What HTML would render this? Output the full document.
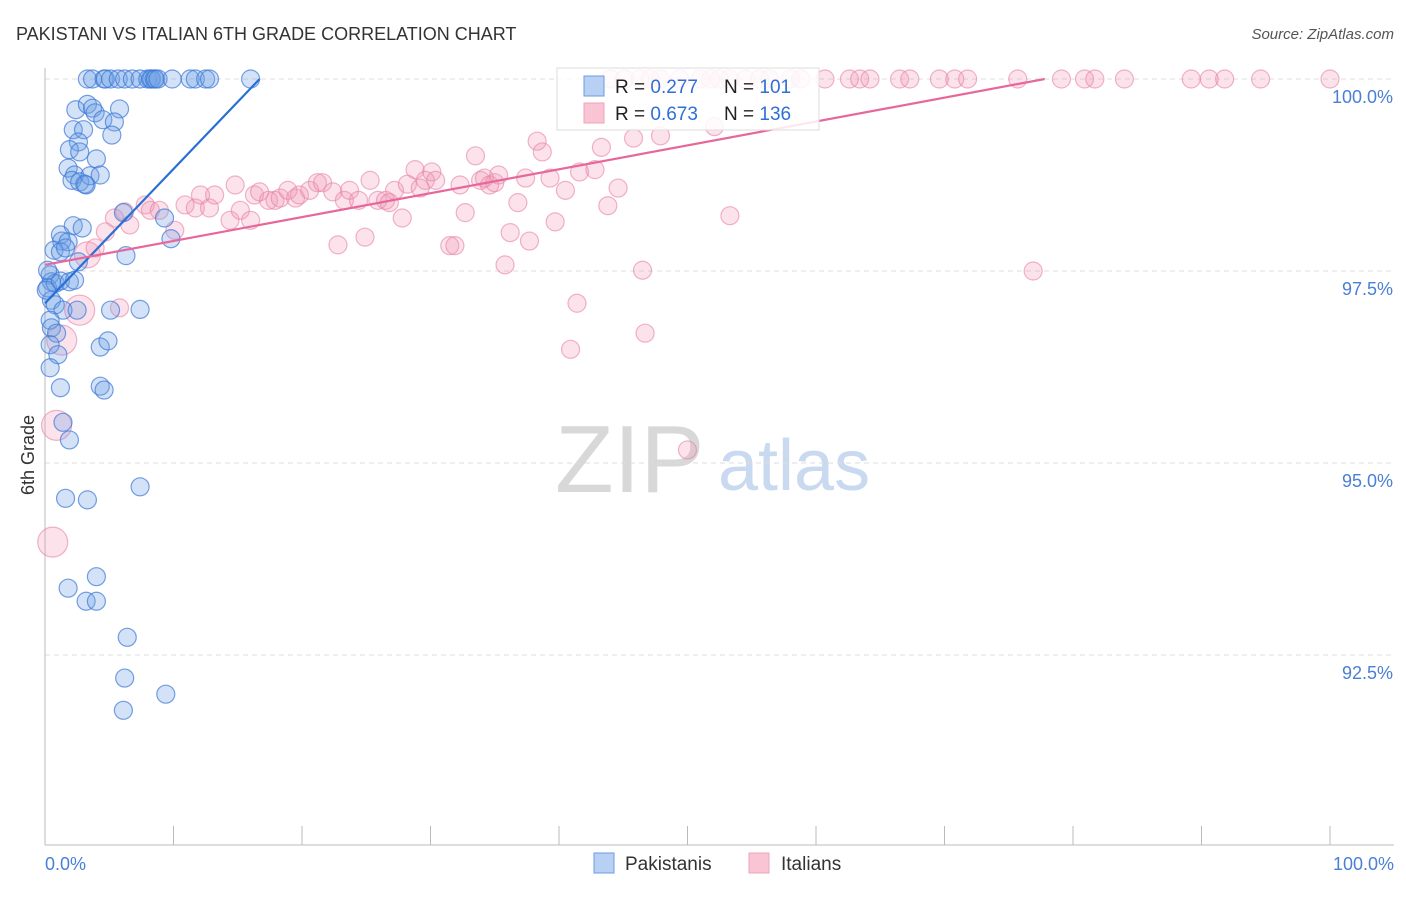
<!DOCTYPE html>
<html><head><meta charset="utf-8">
<style>
body{margin:0;background:#fff;font-family:"Liberation Sans",sans-serif;}
svg text{font-family:"Liberation Sans",sans-serif;}
</style></head>
<body>
<svg id="chart" width="1406" height="892" viewBox="0 0 1406 892">
<text x="16" y="40" font-size="18" fill="#333">PAKISTANI VS ITALIAN 6TH GRADE CORRELATION CHART</text>
<text x="1394" y="39" font-size="15" fill="#555" font-style="italic" text-anchor="end">Source: ZipAtlas.com</text>
<g>
<text x="555" y="492" font-size="96" fill="#d8d8d8" font-family="Liberation Serif,serif">ZIP</text>
<text x="718" y="490" font-size="72" fill="#c9d9f0">atlas</text>
</g>
<g id="grid"></g>
<g id="axes"></g>
<g id="pinkpts"></g>
<g id="bluepts"></g>
<g id="lines"></g>
<text x="34" y="455" font-size="18" fill="#333" text-anchor="middle" transform="rotate(-90 34 455)">6th Grade</text>
<text x="45" y="870" font-size="18" fill="#4a7fd6">0.0%</text>
<text x="1394" y="870" font-size="18" fill="#4a7fd6" text-anchor="end">100.0%</text>
<g>
<rect x="557" y="68" width="262" height="62" fill="#fff" fill-opacity="0.85" stroke="#ddd"/>
<rect x="584" y="76" width="20" height="20" fill="#b8d0f3" stroke="#6b9ce0"/>
<rect x="584" y="103" width="20" height="20" fill="#f9c4d4" stroke="#eea4bb"/>
<text x="615" y="93" font-size="19" fill="#222">R = <tspan fill="#2f6fd6">0.277</tspan></text>
<text x="724" y="93" font-size="19" fill="#222">N = <tspan fill="#2f6fd6">101</tspan></text>
<text x="615" y="120" font-size="19" fill="#222">R = <tspan fill="#2f6fd6">0.673</tspan></text>
<text x="724" y="120" font-size="19" fill="#222">N = <tspan fill="#2f6fd6">136</tspan></text>
</g>
<g>
<rect x="594" y="853" width="20" height="20" fill="#b8d0f3" stroke="#6b9ce0"/>
<text x="625" y="870" font-size="19" fill="#333">Pakistanis</text>
<rect x="749" y="853" width="20" height="20" fill="#f9c4d4" stroke="#eea4bb"/>
<text x="781" y="870" font-size="19" fill="#333">Italians</text>
</g>
</svg>
<script>
const yTicks=[100,97.5,95,92.5];
const yTickLabels=["100.0%","97.5%","95.0%","92.5%"];
const xTicks=[0,10,20,30,40,50,60,70,80,90,100];
const blueX=[3.3,3.7,4.6,4.7,5.1,5.7,6.2,6.8,7.4,8.0,8.2,8.3,8.5,8.6,8.8,9.9,11.3,11.7,12.5,12.8,16.0,
2.4,3.3,3.7,3.9,4.5,5.8,5.4,5.2,2.2,3.0,2.6,1.9,2.7,4.0,1.8,2.3,2.1,2.7,3.2,3.5,4.3,3.1,6.1,9.3,2.2,2.9,1.2,1.3,1.8,0.7,1.2,1.6,2.6,6.3,9.8,
0.4,0.5,0.2,0.8,1.2,1.9,2.3,0.5,0.8,1.4,2.5,5.1,7.4,0.4,0.5,0.9,0.4,1.0,4.3,4.9,0.4,1.2,4.3,4.6,1.4,1.9,1.6,3.3,7.4,1.8,4.0,3.2,4.0,6.4,6.2,9.4,6.1,0.2,0.1];
const blueY=[100,100,100,100,100,100,100,100,100,100,100,100,100,100,100,100,100,100,100,100,100,
99.60,99.67,99.62,99.56,99.47,99.61,99.44,99.27,99.34,99.34,99.18,99.08,99.05,98.96,98.84,98.75,98.68,98.66,98.62,98.74,98.75,98.63,98.26,98.19,98.09,98.06,97.97,97.89,97.88,97.77,97.75,97.80,97.62,97.70,97.92,
97.45,97.36,97.28,97.34,97.37,97.36,97.38,97.12,97.06,96.99,96.99,96.99,97.0,96.86,96.76,96.69,96.54,96.41,96.51,96.59,96.24,95.98,96.0,95.95,95.53,95.30,94.54,94.52,94.69,93.37,93.52,93.20,93.20,92.73,92.20,91.99,91.78,97.51,97.25];
const pinkX=[0.6,0.9,1.3,2.7,5.8,3.3,3.9,4.7,5.4,6.6,6.2,7.8,8.2,8.9,10.1,10.9,11.7,12.1,12.8,13.2,14.4,14.8,15.2,16.0,16.3,16.7,17.4,17.9,18.3,18.9,19.5,19.8,20.6,21.2,21.6,22.4,22.8,23.3,23.7,24.4,24.9,25.3,25.9,26.5,26.8,27.2,27.8,28.2,28.8,29.2,29.6,30.1,30.4,31.5,31.9,32.3,32.7,33.5,33.9,34.2,34.6,35.0,35.3,35.8,36.2,36.8,37.4,37.7,38.3,38.7,39.3,39.7,40.5,40.9,41.4,41.6,42.8,43.3,43.8,44.6,45.8,46.5,46.7,47.9,50.0,52.1,53.3,76.9,
44.0,45.1,46.3,47.1,47.9,49.4,51.0,51.8,52.5,53.3,54.5,55.6,56.4,58.0,58.8,60.7,62.6,63.4,64.2,66.5,67.3,69.6,70.8,71.8,75.7,79.1,80.9,81.7,84.0,89.2,90.6,91.8,94.6,100];
const pinkY=[93.97,95.49,96.60,96.99,97.02,97.71,97.80,98.01,98.19,98.10,98.27,98.36,98.29,98.29,98.03,98.36,98.32,98.49,98.32,98.49,98.16,98.62,98.29,98.16,98.49,98.53,98.42,98.42,98.45,98.55,98.45,98.49,98.55,98.65,98.65,98.53,97.84,98.42,98.55,98.42,97.94,98.68,98.42,98.42,98.39,98.55,98.19,98.63,98.82,98.58,98.68,98.79,98.68,97.83,97.83,98.62,98.26,99.00,98.68,98.71,98.62,98.65,98.75,97.58,98.0,98.39,98.71,97.89,99.19,99.05,98.71,98.14,98.55,96.48,97.08,98.79,98.82,99.11,98.35,98.58,99.23,97.51,96.69,99.26,95.17,99.38,98.22,97.50,
100,100,100,100,100,100,100,100,100,100,100,100,100,100,100,100,100,100,100,100,100,100,100,100,100,100,100,100,100,100,100,100,100,100];
const pinkWeight=[3,3,3,3,1,2];
const blueTrend=[[0,97.08],[16.7,100]];
const pinkTrend=[[0,97.58],[77.8,100]];

const X0=45,X1=1330,Y100=79,PXPER=76.8;
const sx=v=>X0+(X1-X0)*v/100;
const sy=v=>Y100+(100-v)*PXPER;
const NS="http://www.w3.org/2000/svg";
function mk(tag,attrs,parent){const e=document.createElementNS(NS,tag);for(const k in attrs)e.setAttribute(k,attrs[k]);parent.appendChild(e);return e;}
const grid=document.getElementById('grid'),axes=document.getElementById('axes');
yTicks.forEach((t,i)=>{
  const l=mk('line',{x1:X0,x2:1394,y1:sy(t),y2:sy(t),stroke:'#ddd','stroke-dasharray':'5,4'},grid);
  
  
  const tx=mk('text',{x:1393,y:sy(t)+24,'font-size':18,fill:'#4a7fd6','text-anchor':'end'},axes);
  tx.textContent=yTickLabels[i];
  
  
});
const ya=mk('line',{x1:X0,x2:X0,y1:68,y2:845,stroke:'#bbb'},axes);


const xa=mk('line',{x1:X0,x2:1394,y1:845,y2:845,stroke:'#bbb'},axes);


xTicks.forEach(t=>{
  const l=mk('line',{x1:sx(t),x2:sx(t),y1:826,y2:845,stroke:'#bbb'},axes);
  
  
});
const pg=document.getElementById('pinkpts');
pinkX.forEach((x,i)=>{
  const w=pinkWeight[i]||1;
  const c=mk('circle',{cx:sx(x),cy:sy(pinkY[i]),r:w===3?15:(w===2?13:9),fill:'rgba(242,150,182,0.28)',stroke:'rgba(232,130,165,0.6)','stroke-width':1.2},pg);
  
  
});
const bg=document.getElementById('bluepts');
blueX.forEach((x,i)=>{
  const c=mk('circle',{cx:sx(x),cy:sy(blueY[i]),r:9,fill:'rgba(110,160,230,0.3)',stroke:'rgba(60,120,215,0.7)','stroke-width':1.2},bg);
  
  
});
const lg=document.getElementById('lines');
const bl=mk('line',{x1:sx(blueTrend[0][0]),y1:sy(blueTrend[0][1]),x2:sx(blueTrend[1][0]),y2:sy(blueTrend[1][1]),stroke:'#2a6fd6','stroke-width':2.2},lg);


const pl=mk('line',{x1:sx(pinkTrend[0][0]),y1:sy(pinkTrend[0][1]),x2:sx(pinkTrend[1][0]),y2:sy(pinkTrend[1][1]),stroke:'#e8679a','stroke-width':2.2},lg);


</script>
</body></html>
